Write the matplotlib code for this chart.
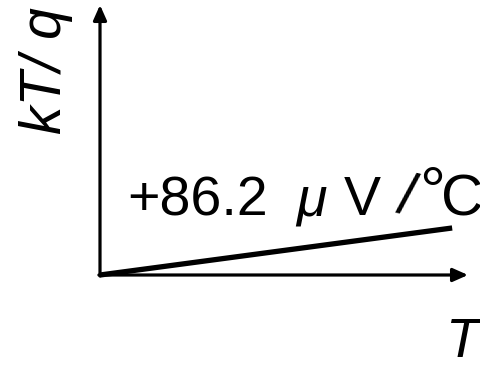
import matplotlib
matplotlib.use("Agg")
import matplotlib.pyplot as plt

plt.rcParams["font.family"] = ["Liberation Sans", "Noto Sans CJK JP", "DejaVu Sans"]

# thermal voltage kT/q grows linearly with T: 86.2 uV per kelvin
slope_uV = 86.2
T = [0, 400]                                  # K
kT_q = [slope_uV * 1e-3 * t for t in T]       # mV
slope_label = "+%.1f" % slope_uV

W, H = 481, 365
fig = plt.figure(figsize=(W / 100, H / 100), dpi=100)
ax = fig.add_axes([100 / W, (H - 275) / H, (468 - 100) / W, (275 - 5) / H])
ax.set_xlim(0, 418)
ax.set_ylim(0, 198)
ax.axis("off")

ax.plot(T, kT_q, color="black", linewidth=3.8, solid_capstyle="butt", clip_on=False)

# axes drawn as arrows
arrow = dict(arrowstyle="-|>,head_length=0.9,head_width=0.4", color="black",
             linewidth=2.3, shrinkA=0, shrinkB=0)
ax.annotate("", xy=(1, 0), xytext=(-0.003, 0), xycoords="axes fraction", arrowprops=arrow)
ax.annotate("", xy=(0, 1), xytext=(0, -0.004), xycoords="axes fraction", arrowprops=arrow)


def px_text(x, y, s, **kw):
    # place text by pixel position measured from the top-left corner
    kw.setdefault("fontsize", 40)
    kw.setdefault("ha", "left")
    kw.setdefault("va", "baseline")
    fig.text(x / W, 1 - y / H, s, **kw)


# slope annotation, set piece by piece for the unit spacing
px_text(127, 215, slope_label)
px_text(296, 215, "\u03bc", style="italic")
px_text(344, 215, "V")
px_text(407, 198, "/", fontsize=43, rotation=-13, ha="center", va="center")
px_text(419, 212, "\u00b0", fontsize=47)
px_text(441, 215, "C", fontsize=42)

px_text(19, 71, "kT/ q", style="italic", rotation=90, va="center", fontsize=41)
px_text(462, 343, "T", style="italic", ha="center", va="center")

fig.savefig("out.png", dpi=100)
